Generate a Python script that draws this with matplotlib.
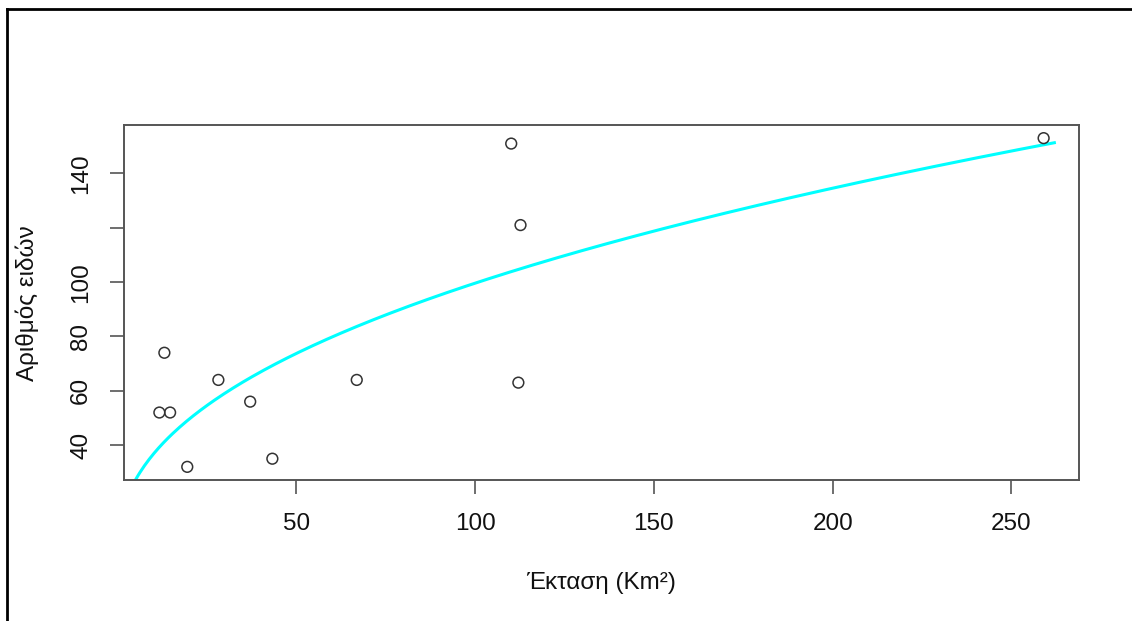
import numpy as np
import matplotlib.pyplot as plt
from matplotlib.lines import Line2D

plt.rcParams['font.family'] = ['Liberation Sans', 'DejaVu Sans']

# island area (Km2) and species count
area = [11.7, 14.7, 13.1, 19.5, 28.2, 37.1, 43.3, 66.9, 110.1, 112.7, 112.1, 259.0]
species = [52, 52, 74, 32, 64, 56, 35, 64, 151, 121, 63, 153]

# power model S = c * A^z
c_fit = 13.5
z_fit = 0.434
curve_from, curve_to = 1.0, 262.0

xticks = [50, 100, 150, 200, 250]
yticks = [40, 60, 80, 100, 120, 140]
# 120 label dropped, as R does when rotated labels would collide
ytick_labels = ['40', '60', '80', '100', '', '140']

W, H = 1132, 621
fig = plt.figure(figsize=(W / 100, H / 100), dpi=100)
ax = fig.add_axes([124 / W, 1 - 480 / H, (1079 - 124) / W, (480 - 125) / H])

a = np.linspace(curve_from, curve_to, 400)
ax.plot(a, c_fit * a ** z_fit, color='#00FFFF', lw=2.2, zorder=2)
ax.scatter(area, species, s=60, facecolors='none', edgecolors='#333333',
           linewidths=1.1, zorder=3)

# R style 4% padding of the data range
xr = max(area) - min(area)
yr = max(species) - min(species)
ax.set_xlim(min(area) - 0.04 * xr, max(area) + 0.04 * xr)
ax.set_ylim(min(species) - 0.04 * yr, max(species) + 0.04 * yr)

ax.set_xticks(xticks)
ax.set_yticks(yticks)
ax.set_yticklabels(ytick_labels, rotation=90, va='center')
ax.tick_params(length=10, width=1.2, color='#555555', labelsize=17.5,
               labelcolor='#111111')
ax.tick_params(axis='x', pad=14)
ax.tick_params(axis='y', pad=13)
for sp in ax.spines.values():
    sp.set_color('#555555')
    sp.set_linewidth(1.4)

fig.text(601 / W, 1 - 583 / H, 'Έκταση (Km²)', ha='center', va='center',
         fontsize=17.5, color='#111111')
fig.text(27 / W, 1 - 303 / H, 'Αριθμός ειδών', ha='center', va='center',
         rotation=90, fontsize=17.5, color='#111111')

# outer frame on the left and top
fig.add_artist(Line2D([7 / W, 7 / W], [0, 1 - 9 / H], color='black', lw=2,
                      transform=fig.transFigure))
fig.add_artist(Line2D([7 / W, 1], [1 - 9 / H, 1 - 9 / H], color='black', lw=2,
                      transform=fig.transFigure))

fig.savefig('out.png', dpi=100)
